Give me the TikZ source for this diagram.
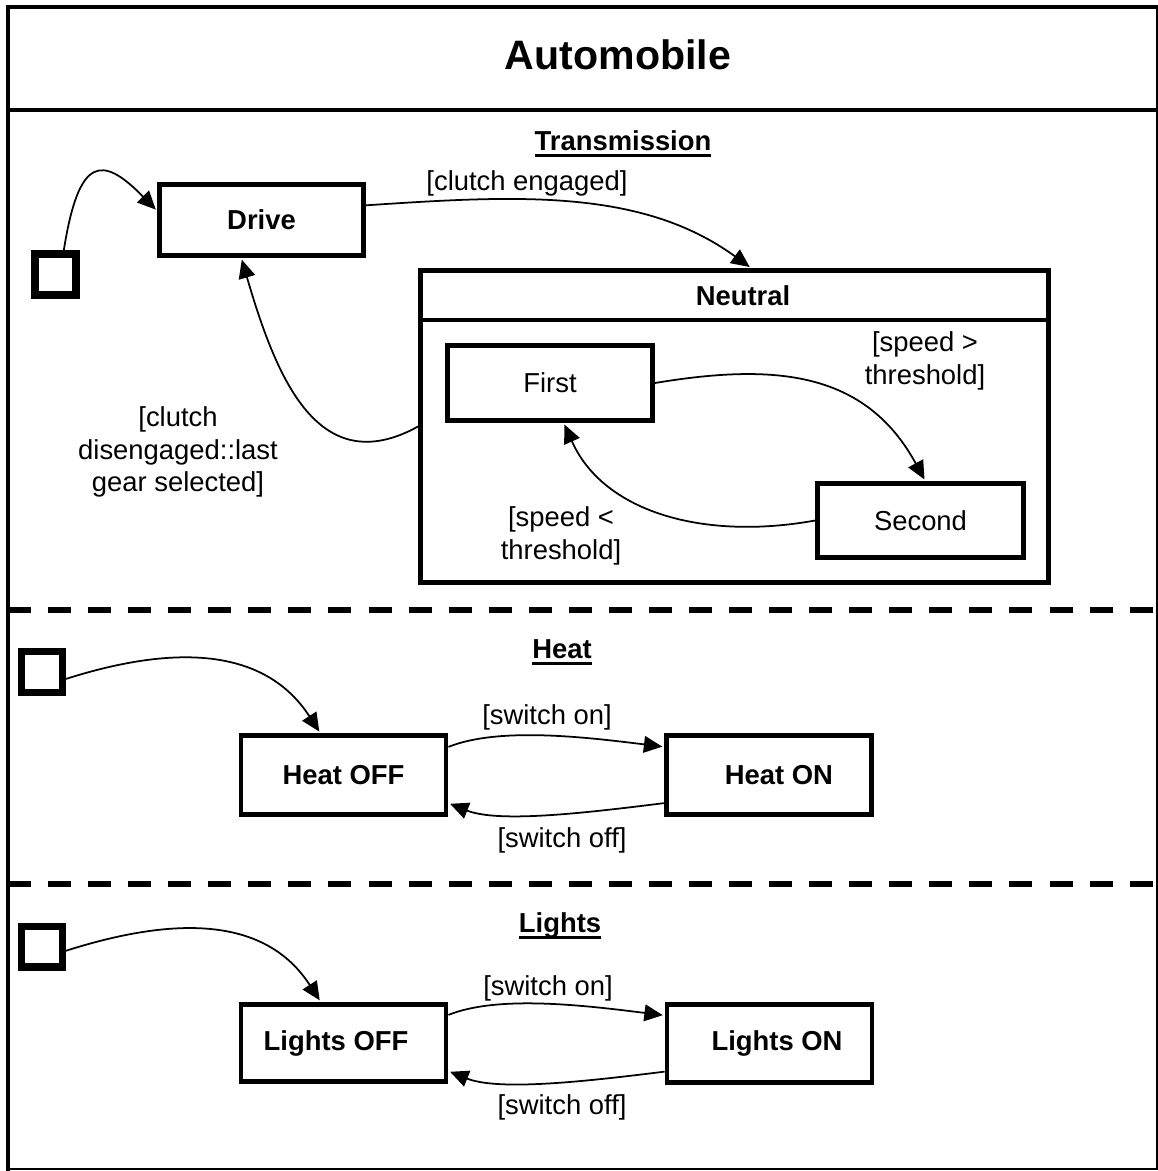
\documentclass[tikz,border=0pt]{standalone}
\usepackage{fontspec}
\setmainfont{Liberation Sans}
\usetikzlibrary{arrows.meta}

\newsavebox{\headbox}
\newcommand{\ulhead}[1]{\sbox{\headbox}{#1}\rlap{\rule[-4pt]{\wd\headbox}{1.7pt}}\usebox{\headbox}}

\begin{document}
\begin{tikzpicture}[x=0.02cm, y=-0.02cm,
  frame/.style={line width=2.8pt},
  divider/.style={line width=3pt, dash pattern=on 13.1pt off 9.7pt},
  statebox/.style={draw, line width=2.8pt, minimum width=4.1cm, minimum height=1.5cm, inner sep=0pt, font=\fontsize{15.6}{18.5}\selectfont},
  initbox/.style={draw, line width=4pt, minimum size=0.82cm, inner sep=0pt},
  transition/.style={line width=1pt, -{Triangle[length=10.5pt,width=9.5pt]}, shorten >=1pt},
  lbl/.style={align=center, inner sep=0pt, font=\fontsize{15.6}{18.5}\selectfont},
  region/.style={inner sep=0pt, font=\fontsize{15.6}{18.5}\selectfont\bfseries}]

\useasboundingbox (0,0) rectangle (1158,1171);

% Outer frame and title
\draw[frame] (8,1171) -- (8,7) -- (1158,7);
\draw[line width=1pt] (1157,7) -- (1157,1169) -- (8,1169);
\draw[frame] (8,110) -- (1158,110);
\node[font=\fontsize{23.4}{28}\selectfont\bfseries] (title) at (618,55) {Automobile};

% Transmission
\node[region, anchor=base] (transtitle) at (623,150) {\ulhead{Transmission}};
\node[initbox] (inittrans) at (55.5,274.5) {};
\node[statebox, minimum width=4.08cm, minimum height=1.42cm] (drive) at (261.5,220) {\bfseries Drive};
\node[statebox, minimum width=12.56cm, minimum height=6.24cm] (neutral) at (734.5,426.5) {};
\coordinate (neutralhead) at (0,320);
\draw[frame] (neutral.west |- neutralhead) -- (neutral.east |- neutralhead);
\node[region] (neutraltitle) at (743,296) {Neutral};
\node[statebox] (first) at (550,383) {First};
\node[statebox, minimum width=4.12cm, minimum height=1.48cm] (second) at (920.5,520.5) {Second};

\draw[transition] (inittrans.71) .. controls +(15,-95) and +(-55,-56) .. (drive.175);
\draw[transition] (drive.8) .. controls +(150,-10) and +(-110,-80) .. (neutral.84);
\draw[transition] (neutral.west) .. controls +(-100,55) and +(35,120) .. (drive.242);
\draw[transition] (first.east) .. controls +(120,-20) and +(-60,-110) .. (second.83);
\draw[transition] (second.west) .. controls +(-110,20) and +(40,90) .. (first.-71);

\node[lbl] (engagedlbl) at (527,183) {[clutch engaged]};
\node[lbl] (disengagedlbl) at (178,452) {[clutch\\disengaged::last\\gear selected]};
\node[lbl] (fasterlbl) at (925,361) {[speed >\\threshold]};
\node[lbl] (slowerlbl) at (561,536) {[speed <\\threshold]};

% Heat
\draw[divider] (8,610) -- (1158,610);
\node[region, anchor=base] (heattitle) at (562,658) {\ulhead{Heat}};
\node[initbox] (initheat) at (42,672) {};
\node[statebox, minimum height=1.58cm] (heatoff) at (343.5,775) {\bfseries Heat OFF};
\node[statebox, minimum height=1.58cm] (heaton) at (769,775) {\bfseries\hspace*{0.4cm}Heat ON};

\draw[transition] (initheat.-16) .. controls +(110,-35) and +(-55,-85) .. (heatoff.119);
\draw[transition] (heatoff.15) .. controls +(50,-20) and +(-80,-10) .. (heaton.165);
\draw[transition] (heaton.195) .. controls +(-80,10) and +(50,20) .. (heatoff.-15);

\node[lbl] (heatonlbl) at (547,717) {[switch on]};
\node[lbl] (heatofflbl) at (562,840) {[switch off]};

% Lights
\draw[divider] (8,884) -- (1158,884);
\node[region, anchor=base] (lightstitle) at (560,932) {\ulhead{Lights}};
\node[initbox] (initlights) at (42,946.5) {};
\node[statebox, minimum height=1.55cm] (lightsoff) at (343.5,1043) {\bfseries Lights OFF\hspace*{0.3cm}};
\node[statebox, minimum height=1.55cm] (lightson) at (769.5,1043.5) {\bfseries\hspace*{0.3cm}Lights ON};

\draw[transition] (initlights.-10) .. controls +(110,-35) and +(-55,-85) .. (lightsoff.119);
\draw[transition] (lightsoff.15) .. controls +(50,-20) and +(-80,-10) .. (lightson.165);
\draw[transition] (lightson.195) .. controls +(-80,10) and +(50,20) .. (lightsoff.-15);

\node[lbl] (lightsonlbl) at (548,988) {[switch on]};
\node[lbl] (lightsofflbl) at (562,1107) {[switch off]};

\end{tikzpicture}
\end{document}
